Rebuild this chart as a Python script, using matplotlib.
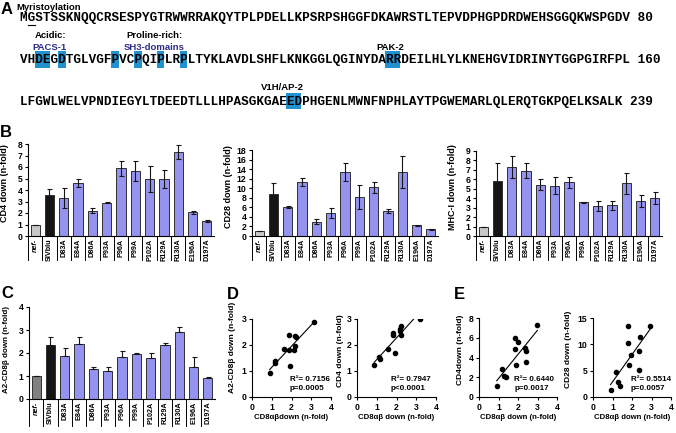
import matplotlib
matplotlib.use('Agg')
import matplotlib.pyplot as plt
import matplotlib.transforms as mtransforms
from matplotlib.patches import Rectangle
import numpy as np

# ---- data ----
categories = ['nef-', 'SIVblu', 'D83A', 'E84A', 'D86A', 'P93A', 'P96A',
              'P99A', 'P102A', 'R129A', 'R130A', 'E196A', 'D197A']

cd4_mean = [1.0, 3.55, 3.3, 4.65, 2.2, 2.9, 5.9, 5.65, 4.95, 4.95, 7.3, 2.05, 1.3]
cd4_err = [0, 0.5, 0.9, 0.35, 0.2, 0.03, 0.65, 0.85, 1.1, 0.75, 0.6, 0.15, 0.05]

cd28_mean = [1.0, 8.8, 6.1, 11.3, 3.0, 4.8, 13.4, 8.1, 10.2, 5.2, 13.4, 2.2, 1.4]
cd28_err = [0, 2.2, 0.2, 0.9, 0.5, 1.1, 1.8, 2.5, 1.2, 0.4, 3.3, 0.2, 0.15]

mhc_mean = [1.0, 5.8, 7.3, 6.9, 5.45, 5.3, 5.7, 3.55, 3.2, 3.25, 5.6, 3.7, 4.05]
mhc_err = [0, 1.9, 1.2, 0.8, 0.6, 0.9, 0.6, 0.05, 0.5, 0.45, 1.1, 0.6, 0.65]

a2_mean = [1.0, 2.35, 1.85, 2.4, 1.32, 1.2, 1.82, 1.97, 1.8, 2.33, 2.9, 1.4, 0.93]
a2_err = [0, 0.35, 0.35, 0.3, 0.05, 0.2, 0.28, 0.03, 0.22, 0.1, 0.22, 0.42, 0.02]

d1_x = [0.89, 1.18, 1.18, 1.6, 1.85, 1.85, 1.9, 2.15, 2.18, 2.24, 2.2, 3.16]
d1_y = [0.91, 1.37, 1.30, 1.85, 2.39, 1.79, 1.2, 1.81, 2.35, 2.3, 1.97, 2.9]
d2_x = [0.87, 1.12, 1.17, 1.55, 1.84, 1.84, 1.92, 2.2, 2.21, 2.23, 2.18, 3.18]
d2_y = [1.23, 1.52, 1.46, 1.84, 2.48, 2.39, 1.69, 2.6, 2.74, 2.37, 2.55, 3.0]
e1_x = [0.91, 1.2, 1.3, 1.39, 1.85, 1.85, 1.89, 2.0, 2.37, 2.42, 2.42, 2.99]
e1_y = [1.15, 2.87, 2.16, 2.0, 5.95, 4.9, 3.28, 5.6, 4.97, 4.63, 3.5, 7.33]
e2_x = [0.9, 1.17, 1.26, 1.38, 1.81, 1.81, 1.84, 1.95, 2.38, 2.38, 2.41, 2.93]
e2_y = [1.4, 4.7, 2.85, 2.0, 13.5, 10.2, 6.1, 8.0, 5.2, 8.7, 11.4, 13.4]

seq1 = 'MGSTSSKNQQCRSESPYGTRWWRRAKQYTPLPDELLKPSRPSHGGFDKAWRSTLTEPVDPHGPDRDWEHSGGQKWSPGDV'
seq2 = 'VHDEGDTGLVGFPVCPQIPLRPLTYKLAVDLSHFLKNKGGLQGINYDARRDEILHLYLKNEHGVIDRINYTGGPGIRFPL'
seq3 = 'LFGWLWELVPNDIEGYLTDEEDTLLLHPASGKGAEEDPHGENLMWNFNPHLAYTPGWEMARLQLERQTGKPQELKSALK'
seq_ends = ['80', '160', '239']
seq_starts = [1, 81, 161]
highlights = [83, 84, 86, 93, 96, 99, 102, 129, 130, 196, 197]

# ---- style ----
W, H = 676, 433
SANS = ['Liberation Sans', 'DejaVu Sans']
MONO = ['Liberation Mono', 'DejaVu Sans Mono']
BAR_BLUE = '#9494f0'
HL_BLUE = '#2291d0'
NAVY = '#2d2a8a'

fig = plt.figure(figsize=(W / 100, H / 100), dpi=100)


def px(x, y):
    return x / W, 1 - y / H


def add_ax(l, t, r, b):
    return fig.add_axes([l / W, 1 - b / H, (r - l) / W, (b - t) / H])


# ---- panel A ----
x0 = 20
pitch = 7.6
line_y = [18, 60.5, 102]
for seq, end, start, y in zip([seq1, seq2, seq3], seq_ends, seq_starts, line_y):
    for pos in highlights:
        i = pos - start
        if 0 <= i < len(seq):
            bx, by = px(x0 + i * pitch, y + 7)
            fig.patches.append(Rectangle((bx, by), pitch / W, 16 / H,
                                         transform=fig.transFigure,
                                         facecolor=HL_BLUE, edgecolor='none', zorder=0))
    fig.text(*px(x0, y), seq + ' ' + end, family=MONO, fontsize=9.12,
             fontweight='bold', ha='left', va='center')

# underline G (myristoylation site)
ux, uy = px(x0 + pitch + 0.5, 25)
fig.lines.append(plt.Line2D([ux, ux + (pitch - 1) / W], [uy, uy],
                            transform=fig.transFigure, color='black', lw=0.8))

lab = dict(family=SANS, fontweight='bold', fontsize=6.8, va='center')
fig.text(*px(16, 7), 'Myristoylation', ha='left', **lab)
fig.text(*px(35, 36), 'Acidic:', ha='left', **lab)
fig.text(*px(32, 47), 'PACS-1', ha='left', color=NAVY, **lab)
fig.text(*px(126, 36), 'Proline-rich:', ha='left', **lab)
fig.text(*px(124, 47), 'SH3-domains', ha='left', color=NAVY, **lab)
fig.text(*px(390, 47), 'PAK-2', ha='center', **lab)
fig.text(*px(282, 88), 'V1H/AP-2', ha='center', **lab)

letter = dict(family=SANS, fontweight='bold', fontsize=12, va='top', ha='left')
fig.text(*px(1, 2), 'A', **letter)
fig.text(*px(0, 125), 'B', **letter)
fig.text(*px(1, 286), 'C', **letter)
fig.text(*px(227, 287), 'D', **letter)
fig.text(*px(454, 287), 'E', **letter)


# ---- bar panels ----
def bar_panel(ax, means, errs, ymax, step, ylabel, nef_color, sep_px,
              upper_only=False, lab_size=6.5, lab_y=0.58):
    x = np.arange(len(categories))
    colors = [nef_color, '#151515'] + [BAR_BLUE] * (len(categories) - 2)
    errs = np.array(errs)
    yerr = [np.zeros_like(errs), errs] if upper_only else errs
    ax.bar(x, means, width=0.65, color=colors, edgecolor='#303030', linewidth=0.7,
           yerr=yerr, error_kw=dict(ecolor='#151515', elinewidth=0.8, capsize=1.8, capthick=0.8),
           zorder=2)
    ax.set_xlim(-0.5, len(categories) - 0.5)
    ax.set_ylim(0, ymax)
    ax.set_yticks(np.arange(0, ymax + 0.01, step))
    for s in ['top', 'right']:
        ax.spines[s].set_visible(False)
    for s in ['left', 'bottom']:
        ax.spines[s].set_linewidth(0.8)
    ax.tick_params(axis='y', direction='out', length=2.5, width=0.8, pad=1.5)
    ax.tick_params(axis='x', length=0, pad=2)
    for t in ax.get_yticklabels():
        t.set_family(SANS)
        t.set_fontweight('bold')
        t.set_fontsize(6.2)
    ax.set_xticks(x)
    ax.set_xticklabels(categories, rotation=90, fontsize=5.2, fontweight='bold', family=SANS)
    ax.get_xticklabels()[0].set_fontstyle('italic')
    ax.set_ylabel(ylabel, family=SANS, fontweight='bold', fontsize=lab_size)
    h_px = ax.get_position().height * H
    ax.yaxis.set_label_coords(-19 / (ax.get_position().width * W), lab_y)
    trans = mtransforms.blended_transform_factory(ax.transData, ax.transAxes)
    for k in range(len(categories)):
        ax.plot([k - 0.5, k - 0.5], [0, -sep_px / h_px], transform=trans,
                color='black', lw=0.7, clip_on=False)


ax_b1 = add_ax(28, 144, 214, 236)
bar_panel(ax_b1, cd4_mean, cd4_err, 8, 1, 'CD4 down (n-fold)', '#c8c8c8', 24)
ax_b2 = add_ax(252, 150, 438, 236)
bar_panel(ax_b2, cd28_mean, cd28_err, 18, 2, 'CD28 down (n-fold)', '#c8c8c8', 24)
ax_b3 = add_ax(476, 151, 662, 236)
bar_panel(ax_b3, mhc_mean, mhc_err, 9, 1, 'MHC-I down (n-fold)', '#c8c8c8', 24)
ax_c = add_ax(29, 307, 215, 399)
bar_panel(ax_c, a2_mean, a2_err, 4, 1, 'A2-CD8\u03b2 down (n-fold)', '#808080', 27,
          upper_only=True, lab_size=5.8, lab_y=0.54)


# ---- scatter panels ----
def scatter_panel(ax, xs, ys, ymax, step, ylabel, xlabel, r2, p, tx, ly, lx):
    xs = np.array(xs)
    ys = np.array(ys)
    ax.plot(xs, ys, 'o', color='black', markersize=3, zorder=3)
    slope, icpt = np.polyfit(xs, ys, 1)
    fx = np.array([xs.min(), xs.max()])
    ax.plot(fx, slope * fx + icpt, color='black', lw=0.8)
    ax.set_xlim(0, 4)
    ax.set_ylim(0, ymax)
    ax.set_xticks(range(5))
    ax.set_yticks(np.arange(0, ymax + 0.01, step))
    for s in ['top', 'right']:
        ax.spines[s].set_visible(False)
    for s in ['left', 'bottom']:
        ax.spines[s].set_linewidth(0.8)
    ax.tick_params(direction='out', length=2.5, width=0.8, pad=1.5)
    for t in ax.get_xticklabels() + ax.get_yticklabels():
        t.set_family(SANS)
        t.set_fontweight('bold')
        t.set_fontsize(6.2)
    ax.set_ylabel(ylabel, family=SANS, fontweight='bold', fontsize=6)
    ax.set_xlabel(xlabel, family=SANS, fontweight='bold', fontsize=5.6)
    ax.yaxis.set_label_coords(lx, ly)
    ax.xaxis.set_label_coords(0.5, -0.22)
    ax.text(tx, 0.22, 'R\u00b2= ' + r2, transform=ax.get_xaxis_transform(),
            family=SANS, fontweight='bold', fontsize=5.8, va='center')
    ax.text(tx, 0.107, p, transform=ax.get_xaxis_transform(),
            family=SANS, fontweight='bold', fontsize=5.8, va='center')


ax_d1 = add_ax(252, 319, 331, 397)
scatter_panel(ax_d1, d1_x, d1_y, 3, 1, 'A2-CD8\u03b2 down (n-fold)',
              'CD8\u03b1\u03b2down (n-fold)', '0.7156', 'p=0.0005', 1.9, 0.64, -0.2)
ax_d2 = add_ax(357, 319, 436, 397)
scatter_panel(ax_d2, d2_x, d2_y, 3, 1, 'CD4 down (n-fold)',
              'CD8\u03b1\u03b2 down (n-fold)', '0.7947', 'p<0.0001', 1.72, 0.59, -0.165)
ax_e1 = add_ax(479, 318, 557, 397)
scatter_panel(ax_e1, e1_x, e1_y, 8, 2, 'CD4down (n-fold)',
              'CD8\u03b1\u03b2 down (n-fold)', '0.6440', 'p=0.0017', 1.82, 0.6, -0.19)
ax_e2 = add_ax(593, 318, 671, 397)
scatter_panel(ax_e2, e2_x, e2_y, 15, 5, 'CD28 down (n-fold)',
              'CD8\u03b1\u03b2 down (n-fold)', '0.5514', 'p=0.0057', 1.93, 0.6, -0.27)

fig.savefig('out.png', dpi=100)
